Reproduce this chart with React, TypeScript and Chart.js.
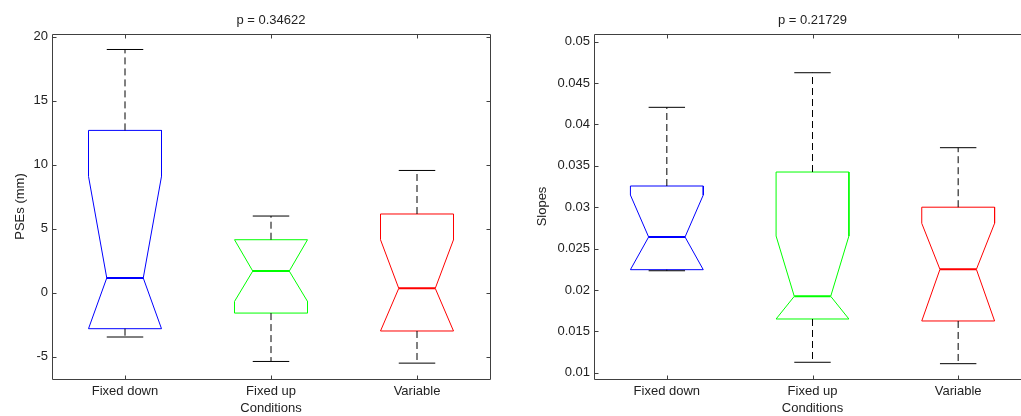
import React, { useEffect, useRef } from 'react';
import { Chart, registerables } from 'chart.js';

Chart.register(...registerables);

// ---------- data ----------
const categories = ['Fixed down', 'Fixed up', 'Variable'];
const boxColors = ['#0000ff', '#00ff00', '#ff0000'];

// Left panel: PSEs (mm)
const pseWhiskerLow = [-3.46, -5.37, -5.5];
const pseQ1 = [-2.81, -1.59, -2.99];
const pseNotchLow = [-2.81, -0.68, -2.99];
const pseMedian = [1.15, 1.69, 0.34];
const pseNotchHigh = [9.09, 4.14, 4.14];
const pseQ3 = [12.68, 4.14, 6.15];
const pseWhiskerHigh = [19.0, 5.99, 9.55];
const pseTicks = [-5, 0, 5, 10, 15, 20];

// Right panel: Slopes
const slopeWhiskerLow = [0.02232, 0.01126, 0.01109];
const slopeQ1 = [0.02245, 0.01649, 0.01625];
const slopeNotchLow = [0.02245, 0.01649, 0.01625];
const slopeMedian = [0.0264, 0.01923, 0.02249];
const slopeNotchHigh = [0.03147, 0.02652, 0.02805];
const slopeQ3 = [0.03256, 0.03425, 0.03];
const slopeWhiskerHigh = [0.04207, 0.04625, 0.03719];
const slopeTicks = [0.01, 0.015, 0.02, 0.025, 0.03, 0.035, 0.04, 0.045, 0.05];

// ---------- styling ----------
const FONT = '"Liberation Sans", Arial, Helvetica, sans-serif';
const TEXT = '#222222';
const AXIS = '#404040';
const BOX_HALF = 0.25;
const NOTCH_HALF = 0.125;
const TICK_LEN = 4;

type BoxArrays = {
  wLo: number[]; q1: number[]; nLo: number[]; med: number[];
  nHi: number[]; q3: number[]; wHi: number[];
};

function makeDatasets(a: BoxArrays) {
  const ds: any[] = [];
  const base = { showLine: true, pointRadius: 0, pointHoverRadius: 0, fill: false, tension: 0 };
  categories.forEach((_, i) => {
    const c = i + 1;
    const col = boxColors[i];
    // whiskers (dashed) and caps
    ds.push({ ...base, data: [{ x: c, y: a.q3[i] }, { x: c, y: a.wHi[i] }], borderColor: '#000', borderWidth: 1, borderDash: [7, 4] });
    ds.push({ ...base, data: [{ x: c, y: a.q1[i] }, { x: c, y: a.wLo[i] }], borderColor: '#000', borderWidth: 1, borderDash: [7, 4] });
    ds.push({ ...base, data: [{ x: c - NOTCH_HALF, y: a.wHi[i] }, { x: c + NOTCH_HALF, y: a.wHi[i] }], borderColor: '#000', borderWidth: 1 });
    ds.push({ ...base, data: [{ x: c - NOTCH_HALF, y: a.wLo[i] }, { x: c + NOTCH_HALF, y: a.wLo[i] }], borderColor: '#000', borderWidth: 1 });
    // notched box outline
    ds.push({
      ...base,
      data: [
        { x: c - BOX_HALF, y: a.q1[i] },
        { x: c - BOX_HALF, y: a.nLo[i] },
        { x: c - NOTCH_HALF, y: a.med[i] },
        { x: c - BOX_HALF, y: a.nHi[i] },
        { x: c - BOX_HALF, y: a.q3[i] },
        { x: c + BOX_HALF, y: a.q3[i] },
        { x: c + BOX_HALF, y: a.nHi[i] },
        { x: c + NOTCH_HALF, y: a.med[i] },
        { x: c + BOX_HALF, y: a.nLo[i] },
        { x: c + BOX_HALF, y: a.q1[i] },
        { x: c - BOX_HALF, y: a.q1[i] },
      ],
      borderColor: col, borderWidth: 1,
    });
    // median
    ds.push({ ...base, data: [{ x: c - NOTCH_HALF, y: a.med[i] }, { x: c + NOTCH_HALF, y: a.med[i] }], borderColor: col, borderWidth: 2 });
  });
  return ds;
}

const framePlugin = {
  id: 'matlabFrame',
  beforeDatasetsDraw(chart: any) {
    const { ctx, chartArea, scales } = chart;
    const { left, right, top, bottom } = chartArea;
    const L = Math.round(left) + 0.5, R = Math.round(right) + 0.5;
    const T = Math.round(top) + 0.5, B = Math.round(bottom) + 0.5;
    ctx.save();
    ctx.strokeStyle = AXIS;
    ctx.lineWidth = 1;
    ctx.beginPath();
    ctx.rect(L, T, R - L, B - T);
    scales.y.ticks.forEach((t: any) => {
      const p = Math.round(scales.y.getPixelForValue(t.value)) + 0.5;
      ctx.moveTo(L, p); ctx.lineTo(L + TICK_LEN, p);
      ctx.moveTo(R, p); ctx.lineTo(R - TICK_LEN, p);
    });
    scales.x.ticks.forEach((t: any) => {
      const p = Math.round(scales.x.getPixelForValue(t.value)) + 0.5;
      ctx.moveTo(p, B); ctx.lineTo(p, B - TICK_LEN);
      ctx.moveTo(p, T); ctx.lineTo(p, T + TICK_LEN);
    });
    ctx.stroke();
    ctx.restore();
  },
};

type PanelProps = {
  title: string; yLabel: string; xLabel: string;
  yMin: number; yMax: number; yTicks: number[]; arrays: BoxArrays;
  left: number; width: number; yAxisWidth: number; padRight: number; yTitlePad: number;
};

function Panel(p: PanelProps) {
  const ref = useRef<HTMLCanvasElement>(null);
  useEffect(() => {
    if (!ref.current) return;
    const font = { family: FONT, size: 13, weight: 'normal' as const };
    const chart = new Chart(ref.current, {
      type: 'scatter',
      data: { datasets: makeDatasets(p.arrays) },
      options: {
        animation: false,
        responsive: false,
        devicePixelRatio: 1,
        layout: { padding: { left: 0, right: p.padRight, top: 0, bottom: 0 } },
        plugins: {
          legend: { display: false },
          tooltip: { enabled: false },
          title: {
            display: true, text: p.title, fullSize: false, color: TEXT, font,
            padding: { top: 13, bottom: 5.4 },
          },
        },
        scales: {
          x: {
            type: 'linear', min: 0.5, max: 3.5,
            afterBuildTicks: (s: any) => { s.ticks = categories.map((_, i) => ({ value: i + 1 })); },
            afterFit: (s: any) => { s.height = 37; },
            ticks: {
              callback: (v: any) => categories[Math.round(v) - 1] ?? '',
              color: TEXT, font, padding: 5, maxRotation: 0, autoSkip: false,
            },
            grid: { display: false, drawTicks: false, tickLength: 0 },
            border: { display: false },
            title: { display: true, text: p.xLabel, color: TEXT, font, padding: { top: 0, bottom: 0 } },
          },
          y: {
            type: 'linear', min: p.yMin, max: p.yMax,
            afterBuildTicks: (s: any) => { s.ticks = p.yTicks.map((v) => ({ value: v })); },
            afterFit: (s: any) => { s.width = p.yAxisWidth; },
            ticks: { callback: (v: any) => String(v), color: TEXT, font, padding: 4, autoSkip: false },
            grid: { display: false, drawTicks: false, tickLength: 0 },
            border: { display: false },
            title: { display: true, text: p.yLabel, color: TEXT, font, padding: { top: p.yTitlePad, bottom: 0 } },
          },
        },
      } as any,
      plugins: [framePlugin],
    });
    return () => chart.destroy();
  }, []);
  return (
    <canvas
      ref={ref}
      width={p.width}
      height={416}
      style={{ position: 'absolute', left: p.left, top: 0, width: p.width, height: 416 }}
    />
  );
}

export default function App() {
  return (
    <div style={{ position: 'fixed', left: 0, top: 0, width: 1021, height: 416, overflow: 'hidden', background: '#fff' }}>
      <Panel
        title="p = 0.34622" yLabel="PSEs (mm)" xLabel="Conditions"
        yMin={-6.74} yMax={20.21} yTicks={pseTicks}
        arrays={{ wLo: pseWhiskerLow, q1: pseQ1, nLo: pseNotchLow, med: pseMedian, nHi: pseNotchHigh, q3: pseQ3, wHi: pseWhiskerHigh }}
        left={0} width={510} yAxisWidth={52} padRight={20} yTitlePad={12.7}
      />
      <Panel
        title="p = 0.21729" yLabel="Slopes" xLabel="Conditions"
        yMin={0.009239} yMax={0.05093} yTicks={slopeTicks}
        arrays={{ wLo: slopeWhiskerLow, q1: slopeQ1, nLo: slopeNotchLow, med: slopeMedian, nHi: slopeNotchHigh, q3: slopeQ3, wHi: slopeWhiskerHigh }}
        left={510} width={540} yAxisWidth={84} padRight={19} yTitlePad={24.7}
      />
    </div>
  );
}
